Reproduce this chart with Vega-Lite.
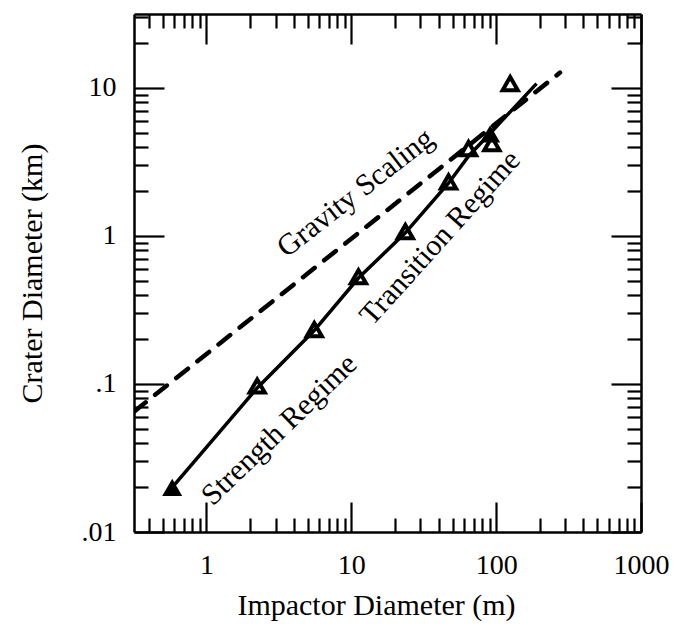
{
  "$schema": "https://vega.github.io/schema/vega-lite/v6.json",
  "width": 507,
  "height": 518,
  "autosize": {"type": "none"},
  "padding": {"left": 134, "top": 14, "right": 32, "bottom": 92},
  "background": "white",
  "config": {
    "font": "Liberation Serif",
    "view": {"stroke": null},
    "axis": {
      "domainColor": "black", "domainWidth": 2.5, "tickColor": "black", "tickWidth": 2.2,
      "labelColor": "black", "titleColor": "black", "grid": false,
      "labelFont": "Liberation Serif", "titleFont": "Liberation Serif",
      "labelFontSize": 28, "titleFontSize": 30, "titleFontWeight": "normal"
    }
  },
  "datasets": {
    "gravity": [
      {"d": 0.316, "D": 0.065},
      {"d": 276, "D": 12.7}
    ],
    "strength": [
      {"d": 0.58, "D": 0.02},
      {"d": 2.24, "D": 0.094},
      {"d": 5.5, "D": 0.228},
      {"d": 11.2, "D": 0.52},
      {"d": 23.6, "D": 1.05},
      {"d": 47, "D": 2.28},
      {"d": 65, "D": 3.5},
      {"d": 92, "D": 5.0},
      {"d": 190, "D": 10.7}
    ],
    "points": [
      {"d": 0.58, "D": 0.02, "kind": "filled"},
      {"d": 2.24, "D": 0.097, "kind": "open"},
      {"d": 5.55, "D": 0.233, "kind": "open"},
      {"d": 11.2, "D": 0.53, "kind": "open"},
      {"d": 23.6, "D": 1.07, "kind": "open"},
      {"d": 46.9, "D": 2.32, "kind": "open"},
      {"d": 64.4, "D": 3.89, "kind": "open"},
      {"d": 90.9, "D": 4.9, "kind": "filled"},
      {"d": 93.4, "D": 4.21, "kind": "open"},
      {"d": 125, "D": 10.7, "kind": "open"}
    ],
    "notes": [
      {"d": 10.7, "D": 1.95, "text": "Gravity Scaling"},
      {"d": 41.1, "D": 0.97, "text": "Transition Regime"},
      {"d": 3.19, "D": 0.049, "text": "Strength Regime"}
    ]
  },
  "resolve": {"axis": {"x": "independent", "y": "independent"}},
  "layer": [
    {
      "data": {"name": "gravity"},
      "mark": {"type": "line", "color": "black", "strokeWidth": 4.5, "strokeDash": [15, 12], "strokeCap": "round", "clip": true},
      "encoding": {
        "x": {"field": "d", "type": "quantitative",
          "scale": {"type": "log", "domain": [0.316, 1000], "nice": false},
          "axis": {"orient": "bottom", "values": [1, 10, 100, 1000], "tickSize": -30,
            "labelExpr": "datum.value", "labelBaseline": "middle", "labelPadding": 63, "labelFlush": false,
            "title": "Impactor Diameter (m)", "titleX": 242, "titleY": 73, "titleBaseline": "middle", "titleAnchor": "middle", "titleAlign": "center"}},
        "y": {"field": "D", "type": "quantitative",
          "scale": {"type": "log", "domain": [0.01, 31.6], "nice": false},
          "axis": {"orient": "left", "values": [0.01, 0.1, 1, 10], "tickSize": -30,
            "labelExpr": "datum.value >= 1 ? format(datum.value, 'd') : replace(format(datum.value, '.2~f'), '0.', '.')",
            "labelBaseline": "middle", "labelPadding": 48, "labelFlush": false,
            "title": "Crater Diameter (km)", "titleX": -102, "titleY": 259, "titleAngle": -90, "titleBaseline": "middle", "titleAlign": "center"}}
      }
    },
    {
      "data": {"name": "strength"},
      "mark": {"type": "line", "color": "black", "strokeWidth": 3.5, "clip": true},
      "encoding": {
        "x": {"field": "d", "type": "quantitative",
          "axis": {"orient": "bottom", "values": [0.4, 0.5, 0.6, 0.7, 0.8, 0.9, 2, 3, 4, 5, 6, 7, 8, 9, 20, 30, 40, 50, 60, 70, 80, 90, 200, 300, 400, 500, 600, 700, 800, 900],
            "tickSize": -14, "labels": false, "title": null, "domain": false}},
        "y": {"field": "D", "type": "quantitative",
          "axis": {"orient": "left", "values": [0.02, 0.03, 0.04, 0.05, 0.06, 0.07, 0.08, 0.09, 0.2, 0.3, 0.4, 0.5, 0.6, 0.7, 0.8, 0.9, 2, 3, 4, 5, 6, 7, 8, 9, 20, 30],
            "tickSize": -14, "labels": false, "title": null, "domain": false}}
      }
    },
    {
      "data": {"name": "points"},
      "transform": [{"filter": "datum.kind === 'open'"}],
      "mark": {"type": "point", "shape": "triangle-up", "filled": false, "color": "black", "strokeWidth": 4, "size": 230, "opacity": 1},
      "encoding": {
        "x": {"field": "d", "type": "quantitative",
          "axis": {"orient": "top", "values": [1, 10, 100, 1000], "tickSize": -30, "labels": false, "title": null}},
        "y": {"field": "D", "type": "quantitative",
          "axis": {"orient": "right", "values": [0.01, 0.1, 1, 10], "tickSize": -30, "labels": false, "title": null}}
      }
    },
    {
      "data": {"name": "points"},
      "transform": [{"filter": "datum.kind === 'filled'"}],
      "mark": {"type": "point", "shape": "triangle-up", "filled": true, "color": "black", "size": 400, "opacity": 1},
      "encoding": {
        "x": {"field": "d", "type": "quantitative",
          "axis": {"orient": "top", "values": [0.4, 0.5, 0.6, 0.7, 0.8, 0.9, 2, 3, 4, 5, 6, 7, 8, 9, 20, 30, 40, 50, 60, 70, 80, 90, 200, 300, 400, 500, 600, 700, 800, 900],
            "tickSize": -14, "labels": false, "title": null, "domain": false}},
        "y": {"field": "D", "type": "quantitative",
          "axis": {"orient": "right", "values": [0.02, 0.03, 0.04, 0.05, 0.06, 0.07, 0.08, 0.09, 0.2, 0.3, 0.4, 0.5, 0.6, 0.7, 0.8, 0.9, 2, 3, 4, 5, 6, 7, 8, 9, 20, 30],
            "tickSize": -14, "labels": false, "title": null, "domain": false}}
      }
    },
    {
      "data": {"name": "notes"},
      "transform": [{"filter": "datum.text === 'Gravity Scaling'"}],
      "mark": {"type": "text", "angle": 322, "fontSize": 30, "font": "Liberation Serif", "color": "black", "align": "center", "baseline": "middle"},
      "encoding": {
        "x": {"field": "d", "type": "quantitative", "axis": null},
        "y": {"field": "D", "type": "quantitative", "axis": null},
        "text": {"field": "text"}
      }
    },
    {
      "data": {"name": "notes"},
      "transform": [{"filter": "datum.text === 'Transition Regime'"}],
      "mark": {"type": "text", "angle": 312, "fontSize": 30, "font": "Liberation Serif", "color": "black", "align": "center", "baseline": "middle"},
      "encoding": {
        "x": {"field": "d", "type": "quantitative", "axis": null},
        "y": {"field": "D", "type": "quantitative", "axis": null},
        "text": {"field": "text"}
      }
    },
    {
      "data": {"name": "notes"},
      "transform": [{"filter": "datum.text === 'Strength Regime'"}],
      "mark": {"type": "text", "angle": 316, "fontSize": 30, "font": "Liberation Serif", "color": "black", "align": "center", "baseline": "middle"},
      "encoding": {
        "x": {"field": "d", "type": "quantitative", "axis": null},
        "y": {"field": "D", "type": "quantitative", "axis": null},
        "text": {"field": "text"}
      }
    }
  ]
}
